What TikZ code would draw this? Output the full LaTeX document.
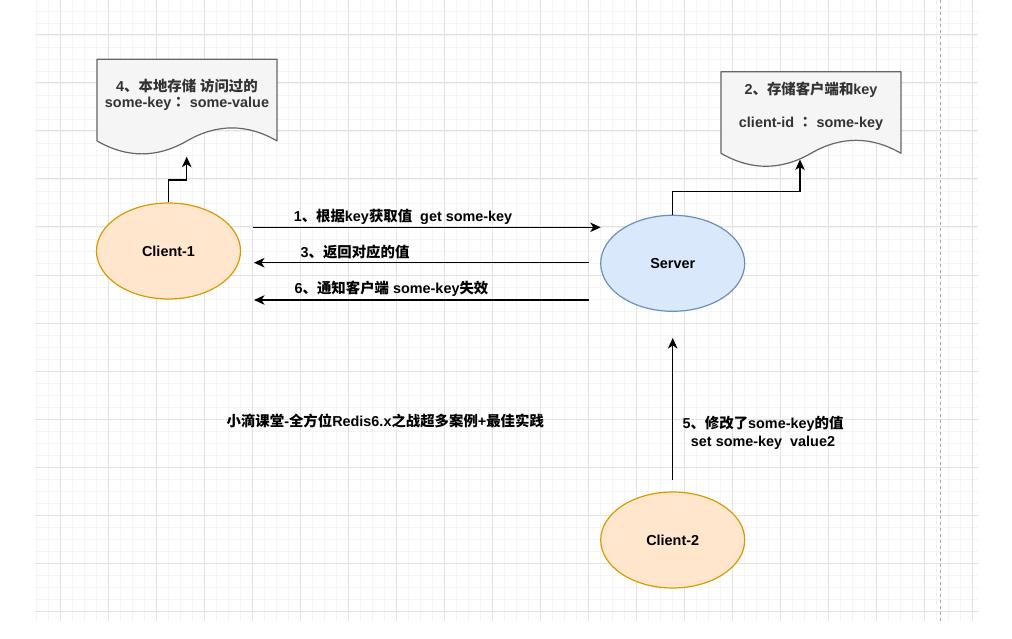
\documentclass[tikz,border=0pt]{standalone}
\usepackage{fontspec}
\setmainfont{Liberation Sans}
\newfontfamily\cjk{Noto Sans CJK SC}
\newfontfamily\cjktc{Noto Sans CJK TC}
\usetikzlibrary{arrows.meta,calc,shapes.geometric}
\newcommand\zh[1]{{\cjk #1}}
\newcommand\zhc[1]{{\cjktc #1}}
\definecolor{gridminor}{HTML}{F4F4F4}
\definecolor{gridmajor}{HTML}{E2E2E2}
\definecolor{docfill}{HTML}{F5F5F5}
\definecolor{docline}{HTML}{666666}
\definecolor{doctext}{HTML}{333333}
\definecolor{cfill}{HTML}{FFE6CC}
\definecolor{cline}{HTML}{D79B00}
\definecolor{sfill}{HTML}{DAE8FC}
\definecolor{sline}{HTML}{6C8EBF}
\definecolor{pagebreak}{HTML}{A8A8A8}
\begin{document}
\begin{tikzpicture}[x=1pt,y=-1pt,
  minorline/.style={draw=gridminor,line width=0.9pt},
  majorline/.style={draw=gridmajor,line width=1pt},
  docbox/.style={rectangle,minimum width=180pt,minimum height=96pt,inner sep=0pt,outer sep=0pt},
  docshape/.style={draw=docline,fill=docfill,line width=1.2pt,line join=round},
  doctxt/.style={font=\fontsize{14.4}{15.6}\selectfont\bfseries,text=doctext,align=center,inner sep=0pt},
  lbl/.style={font=\fontsize{14.4}{17.4}\selectfont\bfseries,text=black,align=center,inner sep=0pt},
  client/.style={ellipse,draw=cline,fill=cfill,line width=1.2pt,minimum width=144pt,minimum height=96pt,inner sep=0pt,font=\fontsize{14.4}{16}\selectfont\bfseries},
  server/.style={ellipse,draw=sline,fill=sfill,line width=1.2pt,minimum width=144pt,minimum height=96pt,inner sep=0pt,font=\fontsize{14.4}{16}\selectfont\bfseries},
  arr/.style={draw=black,line width=1.2pt,-{Stealth[length=10.5pt,width=9.5pt,inset=3pt]}}
]
\useasboundingbox (0,0) rectangle (1012,639);
\fill[white] (0,0) rectangle (1012,639);
% grid
\foreach \i in {0,...,78} \draw[minorline] ({36.3+12*\i},0) -- ({36.3+12*\i},621);
\foreach \j in {0,...,50} \draw[minorline] (35,{11+12*\j}) -- (978,{11+12*\j});
\foreach \i in {0,...,19} \draw[majorline] ({60.3+48*\i},0) -- ({60.3+48*\i},621);
\foreach \j in {0,...,12} \draw[majorline] (35,{35+48*\j}) -- (978,{35+48*\j});
\draw[pagebreak,line width=1pt,dash pattern=on 3pt off 3pt] (940.3,0) -- (940.3,621);

% documents
\node[docbox] (d1) at (187,107.3) {};
\node[docbox] (d2) at (811,119.7) {};
\foreach \d in {d1,d2}{
\begin{scope}[shift={(\d.north west)}]
\path[docshape] (0,0) -- (180,0) -- (180,81.6)
  .. controls (150,64.3) and (120,64.3) .. (90,81.6)
  .. controls (60,98.9) and (30,98.9) .. (0,81.6) -- cycle;
\end{scope}}
\node[doctxt] (t1) at (187,94.5) {4\zh{、本地存储} \zh{访问过的}\\some-key\zhc{：} some-value};
\node[doctxt,font=\fontsize{14.4}{16.7}\selectfont\bfseries] (t2) at (811,106) {2\zh{、存储客户端和}key\\[16.7pt]client-id \zhc{：} some-key};

% ellipses
\node[client] (c1) at (168.5,251) {Client-1};
\node[server] (srv) at (672.7,263.3) {Server};
\node[client] (c2) at (672.7,540) {Client-2};

% connectors to documents
\coordinate (e1) at (186.7,156.7);
\coordinate (e2) at (800,159.5);
\draw[arr] (c1.north) -- (c1.north |- 0,180) -| (e1);
\draw[arr] (srv.north) -- (srv.north |- 0,191.7) -| (e2);

% horizontal arrows
\coordinate (a1s) at (252.7,227.3);
\coordinate (a1e) at (600.7,227.3);
\coordinate (a3s) at (589,262.7);
\coordinate (a3e) at (254,262.7);
\coordinate (a6s) at (589,300);
\coordinate (a6e) at (254,300);
\draw[arr] (a1s) -- (a1e);
\draw[arr] (a3s) -- (a3e);
\draw[arr] (a6s) -- (a6e);
\node[lbl] (l1) at (403,216.7) {1\zh{、根据}key\zh{获取值}\ \ get some-key};
\node[lbl] (l3) at (355,252.3) {3\zh{、返回对应的值}};
\node[lbl] (l6) at (391.5,288.3) {6\zh{、通知客户端} some-key\zh{失效}};

% vertical arrow from client-2
\coordinate (a5s) at (672.7,480);
\coordinate (a5e) at (672.7,338);
\draw[arr] (a5s) -- (a5e);
\node[lbl] (l5) at (763,433) {5\zh{、修改了}some-key\zh{的值}\\set some-key\ \ value2};

% title
\node[lbl] (title) at (385.3,420.7) {\zh{小滴课堂}-\zh{全方位}Redis6.x\zh{之战超多案例}+\zh{最佳实践}};
\end{tikzpicture}
\end{document}
